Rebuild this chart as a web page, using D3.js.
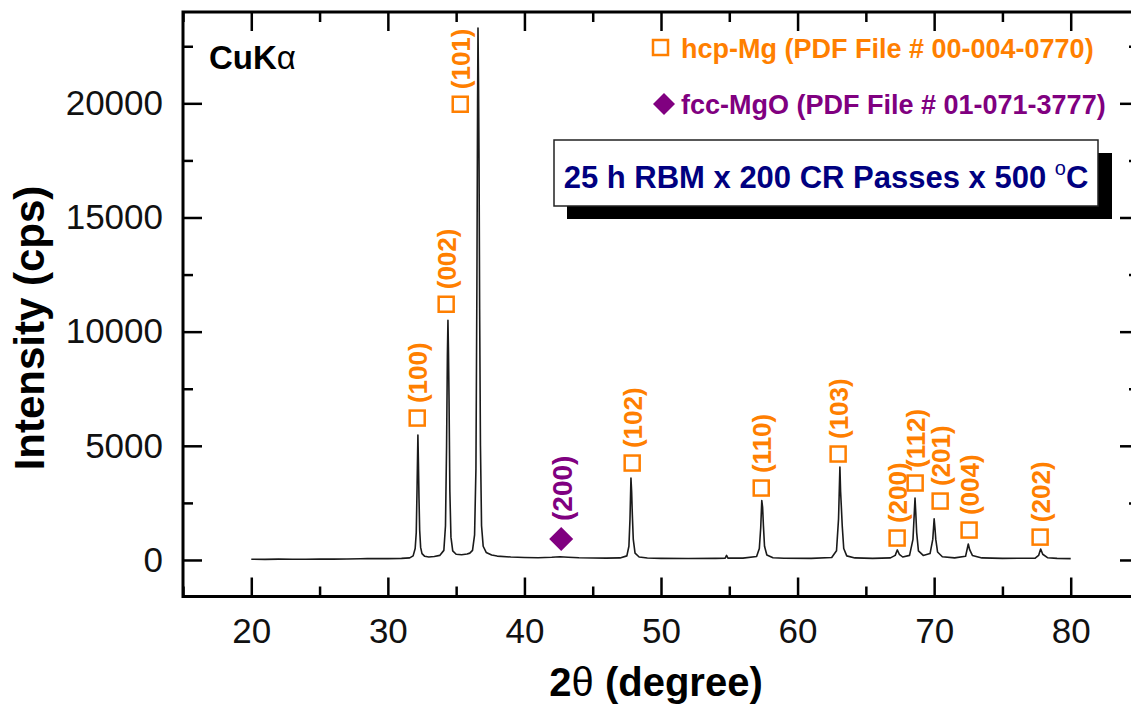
<!DOCTYPE html>
<html>
<head>
<meta charset="utf-8">
<title>XRD pattern</title>
<script src="https://cdn.jsdelivr.net/npm/d3@7"></script>
<style>
  body { margin: 0; background: #fff; }
  svg text { font-family: Arial, "Liberation Sans", sans-serif; }
</style>
</head>
<body>
<div id="chart"></div>
<script>
var tth = [20, 21, 22, 23, 24, 25, 26, 27, 28, 28.5, 29, 30, 31, 31.6,
  31.85, 32.0, 32.08, 32.14, 32.2, 32.24, 32.28, 32.33, 32.4, 32.5, 32.7,
  33.0, 33.4, 33.8, 34.1, 34.22, 34.3, 34.36, 34.4, 34.44, 34.48, 34.54, 34.62, 34.75,
  35.0, 35.4, 35.8, 36.0, 36.2, 36.35, 36.45, 36.52, 36.57, 36.6, 36.64, 36.68, 36.72, 36.78, 36.86, 36.98,
  37.2, 37.6, 38, 39, 40, 41, 42, 42.6, 43.2, 44, 45, 46, 47,
  47.5, 47.65, 47.73, 47.8, 47.85, 47.9, 47.97, 48.1, 48.4,
  49, 50, 52, 54, 54.7, 54.8, 54.9, 56,
  57.0, 57.2, 57.3, 57.38, 57.44, 57.5, 57.58, 57.75, 58.2, 59, 61,
  62.5, 62.85, 63.0, 63.1, 63.15, 63.2, 63.27, 63.38, 63.6, 64.2, 65.5,
  66.8, 67.15, 67.3, 67.45, 67.7,
  68.2, 68.45, 68.6, 68.66, 68.72, 68.85, 69.2,
  69.7, 69.9, 70.0, 70.06, 70.12, 70.25, 70.6, 71.5,
  72.3, 72.5, 72.6, 72.8, 73.5, 75,
  77.4, 77.65, 77.8, 77.95, 78.3, 79, 80];
var cps = [30, 28, 35, 30, 32, 35, 38, 40, 55, 60, 58, 60, 70, 90,
  180, 500, 1200, 3200, 5470, 4200, 2700, 1300, 550, 280, 160,
  130, 150, 200, 420, 1500, 5000, 9000, 10500, 9100, 7000, 3000, 1000, 400,
  250, 230, 260, 300, 420, 1100, 4000, 12000, 20000, 23300, 20800, 17000, 11000, 5000, 1500, 600,
  330, 220, 170, 130, 110, 100, 120, 140, 120, 95, 85, 80, 90,
  180, 600, 1800, 3590, 3000, 2000, 900, 300, 130,
  85, 70, 65, 70, 80, 200, 80, 80,
  150, 500, 1400, 2600, 2300, 1500, 600, 220, 100, 75, 70,
  110, 400, 1800, 4070, 3000, 2400, 1500, 500, 180, 90, 70,
  90, 200, 440, 250, 130,
  200, 900, 2710, 2000, 1200, 400, 200,
  280, 900, 1800, 1400, 900, 350, 140, 90,
  160, 700, 450, 200, 90, 70,
  80, 200, 480, 250, 100, 70, 60];

// hcp-Mg reflections: label, marker 2theta, marker height (cps)
var hcpHkl = ["(100)", "(002)", "(101)", "(102)", "(110)", "(103)", "(200)", "(112)", "(201)", "(004)", "(202)"];
var hcpPos = [32.15, 34.27, 35.3, 47.89, 57.34, 62.97, 67.29, 68.61, 70.44, 72.56, 77.76];
var hcpMark = [6215, 11200, 19960, 4245, 3150, 4640, 960, 3370, 2580, 1310, 1000];

// fcc-MgO reflections
var mgoHkl = ["(200)"];
var mgoPos = [42.69];
var mgoMark = [920];

var xTicks = [20, 30, 40, 50, 60, 70, 80];
var xMinor = [15, 25, 35, 45, 55, 65, 75, 85];
var yTicks = [0, 5000, 10000, 15000, 20000];
var yMinor = [2500, 7500, 12500, 17500, 22500];

var orange = "#ff7f00", purple = "#800080", navy = "#000080";

var W = 1131, H = 704;
var padL = 183, padT = 12, padR = 1139, padB = 596.5;

var svg = d3.select("#chart").append("svg")
  .attr("width", W)
  .attr("height", H);

var x = d3.scaleLinear().domain([15, 85]).range([padL, padR]);
var y = d3.scaleLinear().domain([-1600, 24000]).range([padB, padT]);

// ticks on all four sides, pointing inward
function ticks(axis, tr, vals, size, fmt, pad) {
  var g = svg.append("g").attr("transform", tr)
    .call(axis.tickValues(vals).tickSize(-size).tickPadding(pad || 3).tickFormat(fmt));
  g.select(".domain").remove();
  g.selectAll(".tick line").attr("stroke", "#000").attr("stroke-width", 2.5);
  return g;
}
var none = function () { return ""; };

var xb = ticks(d3.axisBottom(x), "translate(0," + padB + ")", xTicks, 19, d3.format("d"), 22);
ticks(d3.axisBottom(x), "translate(0," + padB + ")", xMinor, 10, none);
ticks(d3.axisTop(x), "translate(0," + padT + ")", xTicks, 19, none);
ticks(d3.axisTop(x), "translate(0," + padT + ")", xMinor, 10, none);
var yl = ticks(d3.axisLeft(y), "translate(" + padL + ",0)", yTicks, 19, d3.format("d"), 20);
ticks(d3.axisLeft(y), "translate(" + padL + ",0)", yMinor, 10, none);
ticks(d3.axisRight(y), "translate(" + padR + ",0)", yTicks, 19, none);
ticks(d3.axisRight(y), "translate(" + padR + ",0)", yMinor, 10, none);

xb.selectAll("text").attr("font-size", 35).attr("fill", "#111")
  .style("font-family", "Arial, 'Liberation Sans', sans-serif");
yl.selectAll("text").attr("font-size", 35).attr("fill", "#111")
  .style("font-family", "Arial, 'Liberation Sans', sans-serif");

// frame
svg.append("rect")
  .attr("x", padL).attr("y", padT)
  .attr("width", padR - padL).attr("height", padB - padT)
  .attr("fill", "none").attr("stroke", "#000").attr("stroke-width", 3);

// pattern
var line = d3.line()
  .x(function (d, i) { return x(tth[i]); })
  .y(function (d) { return y(d); });

svg.append("path")
  .datum(cps)
  .attr("d", line)
  .attr("fill", "none")
  .attr("stroke", "#1a1a1a")
  .attr("stroke-width", 1.6)
  .attr("stroke-linejoin", "round");

// peak markers and labels
hcpPos.forEach(function (p, i) {
  var mx = x(p), my = y(hcpMark[i]);
  svg.append("rect")
    .attr("x", mx - 7.5).attr("y", my - 7.5)
    .attr("width", 15).attr("height", 15)
    .attr("fill", "#fff").attr("stroke", orange).attr("stroke-width", 2.5);
  svg.append("text")
    .attr("transform", "translate(" + (mx + 1) + "," + (my - 15) + ") rotate(-90)")
    .attr("dominant-baseline", "central")
    .attr("font-size", 26).attr("font-weight", "bold")
    .attr("fill", orange)
    .text(hcpHkl[i]);
});

mgoPos.forEach(function (p, i) {
  var mx = x(p), my = y(mgoMark[i]);
  svg.append("path")
    .attr("d", "M" + mx + "," + (my - 12) + "L" + (mx + 12) + "," + my + "L" + mx + "," + (my + 12) + "L" + (mx - 12) + "," + my + "Z")
    .attr("fill", purple);
  svg.append("text")
    .attr("transform", "translate(" + (mx + 1) + "," + (my - 18) + ") rotate(-90)")
    .attr("dominant-baseline", "central")
    .attr("font-size", 28).attr("font-weight", "bold")
    .attr("fill", purple)
    .text(mgoHkl[i]);
});

// CuKa
var ck = svg.append("text").attr("x", 209).attr("y", 69).attr("font-size", 33);
ck.append("tspan").attr("font-weight", "bold").text("CuK");
ck.append("tspan").text("\u03b1");

// legend
svg.append("rect")
  .attr("x", 653).attr("y", 40).attr("width", 15).attr("height", 15)
  .attr("fill", "#fff").attr("stroke", orange).attr("stroke-width", 2.5);
svg.append("text")
  .attr("x", 681).attr("y", 58)
  .attr("font-size", 27).attr("font-weight", "bold").attr("fill", orange)
  .text("hcp-Mg (PDF File # 00-004-0770)");
svg.append("path")
  .attr("d", "M664,93L675,104L664,115L653,104Z")
  .attr("fill", purple);
svg.append("text")
  .attr("x", 681).attr("y", 114)
  .attr("font-size", 27).attr("font-weight", "bold").attr("fill", purple)
  .text("fcc-MgO (PDF File # 01-071-3777)");

// condition box with shadow
svg.append("rect")
  .attr("x", 567).attr("y", 153).attr("width", 545).attr("height", 66)
  .attr("fill", "#000");
svg.append("rect")
  .attr("x", 554).attr("y", 140).attr("width", 544).attr("height", 66)
  .attr("fill", "#fff").attr("stroke", "#222").attr("stroke-width", 1.5);
var bt = svg.append("text")
  .attr("x", 826).attr("y", 188)
  .attr("text-anchor", "middle")
  .attr("font-size", 31).attr("font-weight", "bold").attr("fill", navy);
bt.append("tspan").text("25 h RBM x 200 CR Passes x 500 ");
bt.append("tspan").attr("font-size", 20).attr("font-weight", "normal").attr("dy", -13).text("o");
bt.append("tspan").attr("dy", 13).text("C");

// axis titles
svg.append("text")
  .attr("transform", "translate(44,328) rotate(-90)")
  .attr("text-anchor", "middle")
  .attr("font-size", 42).attr("font-weight", "bold")
  .text("Intensity (cps)");

var xt = svg.append("text")
  .attr("x", 656).attr("y", 696)
  .attr("text-anchor", "middle")
  .attr("font-size", 40).attr("font-weight", "bold");
xt.append("tspan").text("2");
xt.append("tspan").attr("font-weight", "normal").text("\u03b8");
xt.append("tspan").text(" (degree)");
</script>
</body>
</html>
